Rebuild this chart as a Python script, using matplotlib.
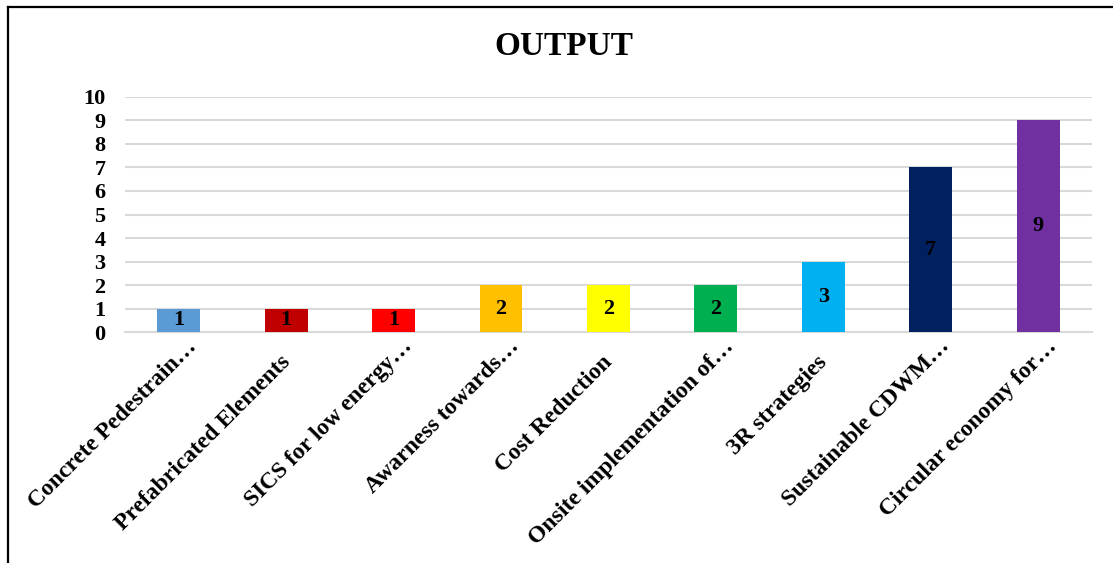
"""Bar chart of output counts per research theme."""

import matplotlib.pyplot as plt
from matplotlib.lines import Line2D
from matplotlib.transforms import blended_transform_factory, offset_copy

categories = [
    "Concrete Pedestrain…",
    "Prefabricated Elements",
    "SICS for low energy…",
    "Awarness towards…",
    "Cost Reduction",
    "Onsite implementation of…",
    "3R strategies",
    "Sustainable CDWM…",
    "Circular economy for…",
]
counts = [1, 1, 1, 2, 2, 2, 3, 7, 9]
bar_colors = [
    "#5B9BD5", "#C00000", "#FF0000", "#FFC000", "#FFFF00",
    "#00B050", "#00B0F0", "#002060", "#7030A0",
]
y_ticks = list(range(0, 11))

plt.rcParams["font.family"] = ["Liberation Serif", "DejaVu Serif"]
plt.rcParams["font.weight"] = "bold"

fig = plt.figure(figsize=(11.13, 5.63), dpi=100)
ax = fig.add_axes([0.1123, 0.410, 0.8687, 0.418])

x = list(range(len(categories)))
bars = ax.bar(x, counts, width=0.4, color=bar_colors, zorder=3)
for rect, val in zip(bars, counts):
    ax.text(rect.get_x() + rect.get_width() / 2, val / 2, str(val),
            ha="center", va="center", fontsize=16, fontweight="bold",
            color="black", zorder=4)

ax.set_xlim(-0.5, len(categories) - 0.5)
ax.set_ylim(0, 10)
ax.set_yticks(y_ticks)
ax.set_yticklabels([str(t) for t in y_ticks], fontsize=16, fontweight="bold")
ax.set_xticks(x)
ax.set_xticklabels([])
ax.tick_params(axis="both", length=0)
ax.tick_params(axis="y", pad=14)

# rotated category labels, baseline end placed just below each bar
base = blended_transform_factory(ax.transData, ax.transAxes)
for xi, label in zip(x, categories):
    if label.endswith("…"):
        dx, dy = 19, -15
    else:
        dx, dy = 5, -31
    tr = offset_copy(base, fig=fig, x=dx, y=dy, units="dots")
    ax.text(xi, 0, label, transform=tr, rotation=45, rotation_mode="anchor",
            ha="right", va="baseline", fontsize=17, fontweight="bold",
            clip_on=False)

ax.grid(axis="y", color="#D9D9D9", linewidth=1.5, zorder=0)
for side in ("top", "right", "left"):
    ax.spines[side].set_visible(False)
ax.spines["bottom"].set_color("#D9D9D9")
ax.spines["bottom"].set_linewidth(1.5)

fig.text(0.507, 0.918, "OUTPUT", ha="center", va="center",
         fontsize=24, fontweight="bold")

# frame: top and left edges only
fig.add_artist(Line2D([0.007, 1.0], [0.9876, 0.9876], color="black", linewidth=1.6,
                      transform=fig.transFigure))
fig.add_artist(Line2D([0.0072, 0.0072], [0.0, 0.9876], color="black", linewidth=1.6,
                      transform=fig.transFigure))

fig.savefig("out.png", dpi=100)
